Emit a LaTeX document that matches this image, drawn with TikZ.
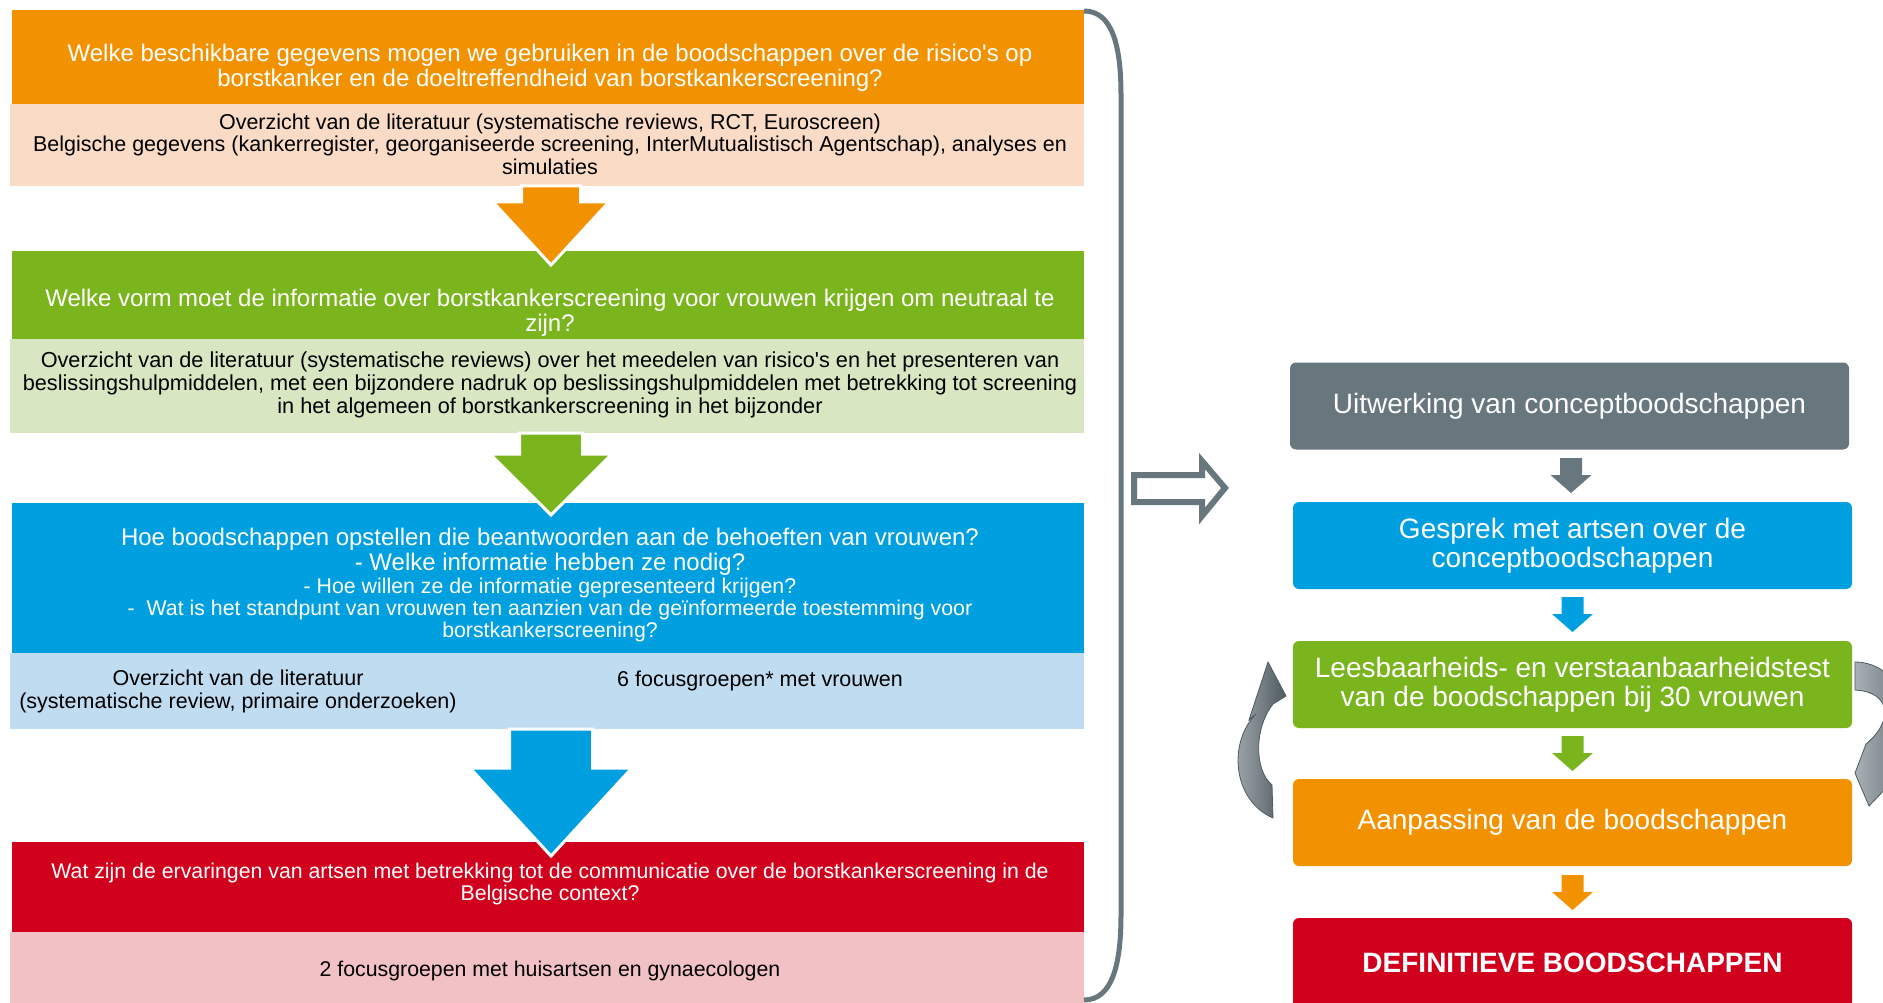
\documentclass[tikz,border=0pt]{standalone}
\usepackage{fontspec}
\setmainfont{Liberation Sans}
\usetikzlibrary{calc}
\definecolor{cOr}{HTML}{F39200}
\definecolor{cOrL}{HTML}{FADBC6}
\definecolor{cGr}{HTML}{7AB51D}
\definecolor{cGrL}{HTML}{D8E6C2}
\definecolor{cBl}{HTML}{009FE0}
\definecolor{cBlL}{HTML}{BFDCF1}
\definecolor{cRd}{HTML}{D1001C}
\definecolor{cRdL}{HTML}{F2C1C5}
\definecolor{cGy}{HTML}{68767E}
\definecolor{cGyL}{HTML}{A9B1B6}
\definecolor{cGyD}{HTML}{4F5A60}
\newcommand\qs{\textquotesingle}
% small down arrow: colour, centre x, top y
\newcommand\dnarrow[3]{\fill[#1] (#2-11,#3) -- (#2+11,#3) -- (#2+11,#3+17) -- (#2+20.5,#3+17) -- (#2,#3+35) -- (#2-20.5,#3+17) -- (#2-11,#3+17) -- cycle;}
% big down arrow: colour, cx, shaft half, head half, y top, y head, y tip
\newcommand\bigdnarrow[7]{\filldraw[#1, draw=white, line width=3pt, line join=miter] (#2-#3,#5) -- (#2+#3,#5) -- (#2+#3,#6) -- (#2+#4,#6) -- (#2,#7) -- (#2-#4,#6) -- (#2-#3,#6) -- cycle;}
\tikzset{
  box/.style={inner sep=0pt, outer sep=0pt},
  hdrtxt/.style={font=\fontsize{24}{24.8}\selectfont, text=white, align=center, inner sep=0pt},
  smalltxt/.style={font=\fontsize{21.3}{22}\selectfont, text=white, align=center, inner sep=0pt},
  subtxt/.style={font=\fontsize{21.5}{22.5}\selectfont, text=black, align=center, inner sep=0pt},
  rbox/.style={rounded corners=6pt, minimum width=559pt, minimum height=87pt, text=white,
     font=\fontsize{28}{29}\selectfont, align=center, inner sep=0pt},
  bracket/.style={draw=cGy, line width=5pt},
  curvarr/.style={left color=cGyL, right color=cGyD, draw=cGyD, line width=0.8pt}
}
\begin{document}
\begin{tikzpicture}[x=1pt,y=-1pt]
\useasboundingbox (0,0) rectangle (1883,1003);
\clip (0,0) rectangle (1883,1003);

% ---------- left column boxes ----------
\node[box, fill=cOr,  minimum width=1072pt, minimum height=94pt] (oh) at (548,57) {};
\node[box, fill=cOrL, minimum width=1074pt, minimum height=82pt] (os) at (547,145) {};
\node[box, fill=cGr,  minimum width=1072pt, minimum height=88pt] (gh) at (548,295) {};
\node[box, fill=cGrL, minimum width=1074pt, minimum height=94pt] (gs) at (547,386) {};
\node[box, fill=cBl,  minimum width=1072pt, minimum height=150pt] (bh) at (548,578) {};
\node[box, fill=cBlL, minimum width=1074pt, minimum height=76pt] (bs) at (547,691) {};
\node[box, fill=cRd,  minimum width=1072pt, minimum height=90pt] (rh) at (548,887) {};
\node[box, fill=cRdL, minimum width=1074pt, minimum height=74pt] (rs) at (547,969) {};

% ---------- left column texts ----------
\node[hdrtxt] (ot) at (550,67.5) {Welke beschikbare gegevens mogen we gebruiken in de boodschappen over de risico\qs s op\\borstkanker en de doeltreffendheid van borstkankerscreening?};
\node[subtxt] (ost) at (550,144) {Overzicht van de literatuur (systematische reviews, RCT, Euroscreen)\\Belgische gegevens (kankerregister, georganiseerde screening, InterMutualistisch Agentschap), analyses en\\simulaties};
\node[hdrtxt] (gt) at (550,312.5) {Welke vorm moet de informatie over borstkankerscreening voor vrouwen krijgen om neutraal te\\zijn?};
\node[subtxt, font=\fontsize{21.7}{22.8}\selectfont] (gst) at (550,385) {Overzicht van de literatuur (systematische reviews) over het meedelen van risico\qs s en het presenteren van\\beslissingshulpmiddelen, met een bijzondere nadruk op beslissingshulpmiddelen met betrekking tot screening\\in het algemeen of borstkankerscreening in het bijzonder};
\node[hdrtxt] (bt1) at (550,551.5) {Hoe boodschappen opstellen die beantwoorden aan de behoeften van vrouwen?\\- Welke informatie hebben ze nodig?};
\node[smalltxt] (bt2) at (550,609.5) {- Hoe willen ze de informatie gepresenteerd krijgen?\\-~ Wat is het standpunt van vrouwen ten aanzien van de geïnformeerde toestemming voor\\borstkankerscreening?};
\node[subtxt] (bst1) at (238,691.5) {Overzicht van de literatuur\\(systematische review, primaire onderzoeken)};
\node[subtxt] (bst2) at (760,681) {6 focusgroepen* met vrouwen};
\node[smalltxt] (rt) at (550,884) {Wat zijn de ervaringen van artsen met betrekking tot de communicatie over de borstkankerscreening in de\\Belgische context?};
\node[subtxt, font=\fontsize{21.3}{22}\selectfont] (rst) at (550,970.5) {2 focusgroepen met huisartsen en gynaecologen};

% ---------- left column arrows ----------
\bigdnarrow{cOr}{551}{29.5}{58}{186}{202}{265}
\bigdnarrow{cGr}{551}{31.5}{61}{433}{454}{515}
\bigdnarrow{cBl}{551}{41.5}{81}{729}{768}{856}

% ---------- bracket ----------
\draw[bracket] (oh.north east) ++(0,1) coordinate (bt) .. controls (1112,11) and (1121,45) .. (1121,95) -- (1121,915) .. controls (1121,965) and (1112,1000) .. (1084,1000) coordinate (bb);

% ---------- hollow arrow ----------
\draw[cGy, line width=6pt, line join=miter, fill=white] (1134,475) -- (1202,475) -- (1202,461) -- (1225,488) -- (1202,516) -- (1202,502) -- (1134,502) -- cycle;

% ---------- right column ----------
\node[rbox, fill=cGy] (gyb) at (1569.5,406) {Uitwerking van conceptboodschappen};
\node[rbox, fill=cBl] (blb) at (1572.5,545.5) {Gesprek met artsen over de\\conceptboodschappen};
\node[rbox, fill=cGr] (grb) at (1572.5,684.5) {Leesbaarheids- en verstaanbaarheidstest\\van de boodschappen bij 30 vrouwen};
\node[rbox, fill=cOr] (orb) at (1572.5,822.5) {Aanpassing van de boodschappen};
\node[rbox, fill=cRd, minimum height=90pt, font=\fontsize{28}{29}\bfseries\selectfont] (rdb) at (1572.5,963) {DEFINITIEVE BOODSCHAPPEN};

\dnarrow{cGy}{1571}{458}
\dnarrow{cBl}{1572.5}{597}
\dnarrow{cGr}{1572.5}{736}
\dnarrow{cOr}{1572.5}{875}

% ---------- curved loop arrows ----------
\shade[curvarr] (1273,818) .. controls (1232,800) and (1228,742) .. (1256,714)
  -- (1249,720) -- (1268,662) -- (1286,696) -- (1273,704)
  .. controls (1254,728) and (1254,770) .. (1272,785) -- cycle;
\shade[curvarr] (1855,662) .. controls (1902,662) and (1928,728) .. (1898,757)
  -- (1910,763) -- (1869,806) -- (1855,773) -- (1866,744)
  .. controls (1893,722) and (1892,692) .. (1855,690) -- cycle;
\end{tikzpicture}
\end{document}
